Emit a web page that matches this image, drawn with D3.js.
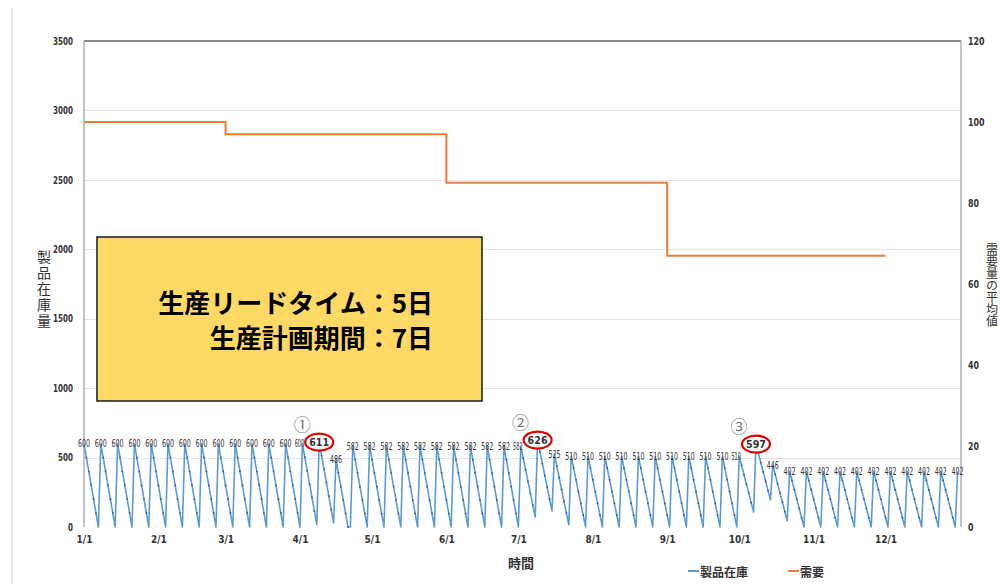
<!DOCTYPE html>
<html lang="ja">
<head>
<meta charset="utf-8">
<script src="https://cdn.jsdelivr.net/npm/d3@7/dist/d3.min.js"></script>
<style>
  html, body { margin: 0; padding: 0; background: #fff; }
  svg { display: block; }
  .tick-num { font-family: "Liberation Sans Narrow", "DejaVu Sans Condensed", "Liberation Sans", sans-serif; font-size: 10px; fill: #333; }
  .jp { font-family: "Noto Sans CJK JP", "Noto Sans", sans-serif; }
</style>
</head>
<body>
<svg id="chart" width="1000" height="584"></svg>
<script>
// Weekly inventory cycles: each row is one production week, one value per day.
const inventoryWeeks = [
  [600,500,400,300,200,100,0],
  [600,500,400,300,200,100,0],
  [600,500,400,300,200,100,0],
  [600,500,400,300,200,100,0],
  [600,500,400,300,200,100,0],
  [600,500,400,300,200,100,0],
  [600,500,400,300,200,100,0],
  [600,500,400,300,200,100,0],
  [600,500,400,300,200,100,0],
  [600,500,400,300,200,100,0],
  [600,500,400,300,200,100,0],
  [600,500,400,300,200,100,0],
  [600,500,400,300,200,100,0],
  [600,503,406,309,212,115,18],
  [611,514,417,320,223,126,29],
  [486,389,292,195,98,1,0],
  [582,485,388,291,194,97,0],
  [582,485,388,291,194,97,0],
  [582,485,388,291,194,97,0],
  [582,485,388,291,194,97,0],
  [582,485,388,291,194,97,0],
  [582,485,388,291,194,97,0],
  [582,485,388,291,194,97,0],
  [582,485,388,291,194,97,0],
  [582,485,388,291,194,97,0],
  [582,485,388,291,194,97,0],
  [582,497,412,327,242,157,72],
  [626,541,456,371,286,201,116],
  [525,440,355,270,185,100,15],
  [510,425,340,255,170,85,0],
  [510,425,340,255,170,85,0],
  [510,425,340,255,170,85,0],
  [510,425,340,255,170,85,0],
  [510,425,340,255,170,85,0],
  [510,425,340,255,170,85,0],
  [510,425,340,255,170,85,0],
  [510,425,340,255,170,85,0],
  [510,425,340,255,170,85,0],
  [510,425,340,255,170,85,0],
  [510,443,376,309,242,175,108],
  [597,530,463,396,329,262,195],
  [446,379,312,245,178,111,44],
  [402,335,268,201,134,67,0],
  [402,335,268,201,134,67,0],
  [402,335,268,201,134,67,0],
  [402,335,268,201,134,67,0],
  [402,335,268,201,134,67,0],
  [402,335,268,201,134,67,0],
  [402,335,268,201,134,67,0],
  [402,335,268,201,134,67,0],
  [402,335,268,201,134,67,0],
  [402,335,268,201,134,67,0],
  [402]
];
const startDate = "2021-01-01";

// Average demand by period (right axis), drawn as steps.
const demandDates = ["2021-01-01", "2021-03-01", "2021-06-01", "2021-09-01", "2021-12-01"];
const demandValues = [100, 97, 85, 67, 67];

// Weeks whose production peak is called out.
const highlightWeeks = [14, 27, 40];
const highlightMarks = ["①", "②", "③"];

const leftTicks = [0, 500, 1000, 1500, 2000, 2500, 3000, 3500];
const rightTicks = [0, 20, 40, 60, 80, 100, 120];
const monthTicks = ["2021-01-01","2021-02-01","2021-03-01","2021-04-01","2021-05-01","2021-06-01",
                    "2021-07-01","2021-08-01","2021-09-01","2021-10-01","2021-11-01","2021-12-01"];

const titleLeft = "製品在庫量";
const titleRight = "需要量の平均値";
const titleX = "時間";
const legendNames = ["製品在庫", "需要"];
const noteLines = ["生産リードタイム：5日", "生産計画期間：7日"];

const parse = d3.utcParse("%Y-%m-%d");
const day0 = parse(startDate);

// Flatten weekly rows into a daily series.
const daily = [];
inventoryWeeks.forEach((row, w) => {
  row.forEach((v, k) => {
    daily.push({ date: d3.utcDay.offset(day0, w * 7 + k), value: v, week: w, k });
  });
});

const plot = { left: 84, right: 960, top: 41, bottom: 527 };
const svg = d3.select("#chart");

const x = d3.scaleUtc()
  .domain([day0, parse("2022-01-01")])
  .range([plot.left, plot.right]);
const yL = d3.scaleLinear().domain([0, 3500]).range([plot.bottom, plot.top]);
const yR = d3.scaleLinear().domain([0, 120]).range([plot.bottom, plot.top]);

const blue = "#5B9BD5";
const orange = "#ED7D31";

// Light page edge line
svg.append("line").attr("x1", 12).attr("x2", 12).attr("y1", 8).attr("y2", 584)
  .attr("stroke", "#e8e8e8").attr("stroke-width", 2);

// Horizontal gridlines from left axis
svg.append("g").selectAll("line").data(leftTicks.slice(1, -1)).join("line")
  .attr("x1", plot.left).attr("x2", plot.right + 1)
  .attr("y1", d => Math.round(yL(d)) + 0.5).attr("y2", d => Math.round(yL(d)) + 0.5)
  .attr("stroke", "#e3e3e3").attr("stroke-width", 1);

// Frame: top, left and right axis lines
svg.append("line").attr("x1", plot.left).attr("x2", plot.right + 1)
  .attr("y1", plot.top).attr("y2", plot.top).attr("stroke", "#8a8a8a").attr("stroke-width", 1.8);
svg.append("line").attr("x1", plot.left).attr("x2", plot.left)
  .attr("y1", plot.top).attr("y2", plot.bottom).attr("stroke", "#b5b5b5").attr("stroke-width", 1.6);
svg.append("line").attr("x1", plot.right + 1).attr("x2", plot.right + 1)
  .attr("y1", plot.top).attr("y2", plot.bottom).attr("stroke", "#b5b5b5").attr("stroke-width", 1.6);

// Left axis
const axL = svg.append("g").attr("transform", `translate(${plot.left - 11},0)`)
  .call(d3.axisLeft(yL).tickValues(leftTicks).tickFormat(d3.format("d")).tickSize(0).tickPadding(0));
axL.select(".domain").remove();
axL.selectAll("text").attr("class", "tick-num").attr("font-weight", "bold").attr("textLength", function () { return this.textContent.length * 5; }).attr("lengthAdjust", "spacingAndGlyphs");

// Right axis
const axR = svg.append("g").attr("transform", `translate(${plot.right + 8},0)`)
  .call(d3.axisRight(yR).tickValues(rightTicks).tickFormat(d3.format("d")).tickSize(0).tickPadding(0));
axR.select(".domain").remove();
axR.selectAll("text").attr("class", "tick-num").attr("font-weight", "bold").attr("textLength", function () { return this.textContent.length * 5.5; }).attr("lengthAdjust", "spacingAndGlyphs");

// Bottom axis (month starts)
const axB = svg.append("g").attr("transform", `translate(0,${plot.bottom + 9})`)
  .call(d3.axisBottom(x).tickValues(monthTicks.map(parse)).tickFormat(d3.utcFormat("%-m/%-d")).tickSize(0).tickPadding(0));
axB.select(".domain").remove();
axB.selectAll("text").attr("class", "tick-num").attr("font-weight", "bold").attr("dy", "0.71em");

// Axis titles
svg.append("text").attr("class", "jp")
  .attr("x", 44).attr("y", 290)
  .attr("text-anchor", "middle")
  .style("writing-mode", "vertical-rl")
  .style("letter-spacing", "2px")
  .attr("font-size", 14).attr("fill", "#333")
  .text(titleLeft);
svg.append("text").attr("class", "jp")
  .attr("x", 992).attr("y", 285)
  .attr("text-anchor", "middle")
  .style("writing-mode", "vertical-rl")
  .attr("font-size", 12).attr("fill", "#333")
  .text(titleRight);
svg.append("text").attr("class", "jp")
  .attr("x", 521).attr("y", 562)
  .attr("text-anchor", "middle").attr("dominant-baseline", "central")
  .attr("font-size", 13).attr("font-weight", "bold").attr("fill", "#333")
  .text(titleX);

// Demand step line
const demand = demandDates.map((d, i) => ({ date: parse(d), value: demandValues[i] }));
svg.append("path").datum(demand)
  .attr("fill", "none").attr("stroke", orange).attr("stroke-width", 2)
  .attr("d", d3.line().x(d => x(d.date)).y(d => yR(d.value)).curve(d3.curveStepAfter));

// Inventory sawtooth
svg.append("path").datum(daily)
  .attr("fill", "none").attr("stroke", blue).attr("stroke-width", 1.6).attr("stroke-linejoin", "round")
  .attr("d", d3.line().x(d => x(d.date)).y(d => yL(d.value)));

// Daily markers
svg.append("g").selectAll("rect").data(daily.filter(d => d.k > 0 && d.k < 6)).join("rect")
  .attr("x", d => x(d.date) - 0.8).attr("y", d => yL(d.value) - 0.8)
  .attr("width", 1.6).attr("height", 1.6).attr("fill", "#2a3f5f").attr("opacity", 0.75);

// Note box
const box = svg.append("g");
box.append("rect").attr("x", 97).attr("y", 237).attr("width", 385).attr("height", 164)
  .attr("fill", "#FFD966").attr("stroke", "#1a1a1a").attr("stroke-width", 1.5);
box.selectAll("text").data(noteLines).join("text").attr("class", "jp")
  .attr("x", 433).attr("y", (d, i) => 301 + i * 35)
  .attr("text-anchor", "end").attr("dominant-baseline", "central")
  .attr("font-size", 26).attr("font-weight", "bold").attr("fill", "#000")
  .text(d => d);

// Peak value labels; the label just before a called-out week is tucked left
const peaks = daily.filter(d => d.k === 0);
const beforeHighlight = w => highlightWeeks.includes(w + 1);
svg.append("g").selectAll("text").data(peaks.filter(d => !highlightWeeks.includes(d.week))).join("text")
  .attr("class", "tick-num")
  .attr("x", d => x(d.date) - (beforeHighlight(d.week) ? 3 : 0)).attr("y", d => yL(d.value))
  .attr("text-anchor", "middle").attr("dominant-baseline", "central")
  .attr("font-size", 10).attr("fill", "#111")
  .attr("textLength", d => beforeHighlight(d.week) ? 9.5 : 12).attr("lengthAdjust", "spacingAndGlyphs")
  .text(d => d.value);

// Highlighted peaks: ellipse, bold value, circled number
const hl = peaks.filter(d => highlightWeeks.includes(d.week));
const hg = svg.append("g").selectAll("g").data(hl).join("g")
  .attr("transform", d => `translate(${x(d.date)},${yL(d.value)})`);
hg.append("ellipse").attr("rx", 14).attr("ry", 8.5)
  .attr("fill", "#fff").attr("fill-opacity", 0.85)
  .attr("stroke", "#e00000").attr("stroke-width", 2.2);
hg.append("text").attr("class", "tick-num")
  .attr("text-anchor", "middle").attr("dominant-baseline", "central")
  .attr("font-size", 15).attr("font-weight", "bold").attr("fill", "#000")
  .attr("textLength", 20).attr("lengthAdjust", "spacingAndGlyphs")
  .text(d => d.value);
hg.append("text").attr("class", "jp")
  .attr("x", -17).attr("y", -19)
  .attr("text-anchor", "middle").attr("dominant-baseline", "central")
  .attr("font-size", 17).attr("fill", "#777")
  .text((d, i) => highlightMarks[i]);

// Legend
const legend = svg.append("g").attr("transform", "translate(688,571)");
const legendColors = [blue, orange];
const legendX = [0, 100];
legendNames.forEach((name, i) => {
  legend.append("line").attr("x1", legendX[i]).attr("x2", legendX[i] + 11)
    .attr("y1", 0).attr("y2", 0).attr("stroke", legendColors[i]).attr("stroke-width", 2);
  legend.append("text").attr("class", "jp")
    .attr("x", legendX[i] + 12).attr("y", 0).attr("dominant-baseline", "central")
    .attr("font-size", 12).attr("font-weight", "bold").attr("fill", "#333")
    .text(name);
});
</script>
</body>
</html>
